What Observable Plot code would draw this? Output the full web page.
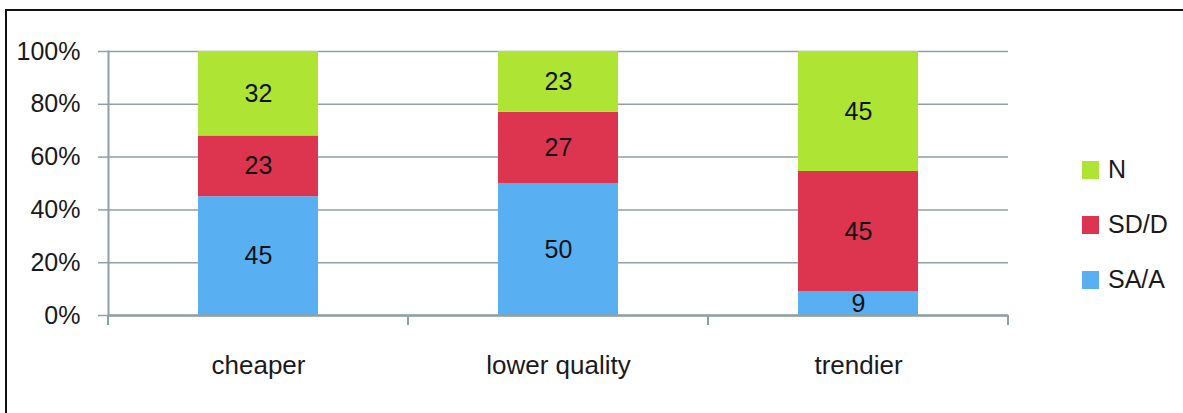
<!DOCTYPE html>
<html>
<head>
<meta charset="utf-8">
<script src="https://cdn.jsdelivr.net/npm/d3@7"></script>
<script src="https://cdn.jsdelivr.net/npm/@observablehq/plot@0.6"></script>
<style>
  html, body { margin: 0; padding: 0; background: #fff; }
  #wrap { position: relative; width: 1183px; height: 413px; overflow: hidden; font-family: "Liberation Sans", Arial, sans-serif; }
  #frame { position: absolute; left: 5px; top: 9px; width: 1220px; height: 460px; border: 2px solid #111; pointer-events: none; }
  #chart { position: absolute; left: 0; top: 0; }
  #legend { position: absolute; left: 1082px; top: 142px; }
  .item { display: flex; align-items: center; height: 55px; }
  .sw { width: 17px; height: 18px; margin-right: 9px; }
  .lab { font-size: 25px; color: #1a1a1a; line-height: 1; }
</style>
</head>
<body>
<div id="wrap">
  <div id="chart"></div>
  <div id="legend"></div>
  <div id="frame"></div>
</div>
<script>
// Survey answers per statement
const categories = ["cheaper", "lower quality", "trendier"];
const series = ["SA/A", "SD/D", "N"];
const saA = [45, 50, 9];
const sdD = [23, 27, 45];
const neutral = [32, 23, 45];
const yTicks = [0, 0.2, 0.4, 0.6, 0.8, 1];

const seriesColors = ["#58b0f2", "#dd3550", "#aee535"];
const gridColor = "#8ea0a3";

// Long-format rows, stacked bottom to top in series order
const valuesBySeries = [saA, sdD, neutral];
const rows = [];
series.forEach((s, si) => {
  categories.forEach((c, ci) => rows.push({category: c, series: s, value: valuesBySeries[si][ci]}));
});

// Tick marks between categories, below the baseline
function bandBoundaries(index, scales) {
  const x = scales.x, y = scales.y;
  const step = typeof x.step === "function" ? x.step() : scales.scales.x.step;
  const bw = typeof x.bandwidth === "function" ? x.bandwidth() : scales.scales.x.bandwidth;
  const xs = categories.map(c => x(c) + bw / 2 - step / 2);
  xs.push(x(categories[categories.length - 1]) + bw / 2 + step / 2);
  const y0 = y(0);
  const g = d3.create("svg:g");
  g.selectAll("line").data(xs).join("line")
    .attr("x1", d => d).attr("x2", d => d)
    .attr("y1", y0).attr("y2", y0 + 10)
    .attr("stroke", gridColor).attr("stroke-width", 2);
  return g.node();
}

const plot = Plot.plot({
  width: 1183,
  height: 413,
  marginLeft: 108,
  marginRight: 175,
  marginTop: 51,
  marginBottom: 98,
  style: {background: "transparent", fontFamily: "Liberation Sans, Arial, sans-serif", color: "#1a1a1a"},
  x: {domain: categories, paddingInner: 0.6, paddingOuter: 0.3, label: null},
  y: {domain: [0, 1], label: null},
  color: {domain: series, range: seriesColors},
  marks: [
    Plot.gridY(yTicks, {stroke: gridColor, strokeOpacity: 1, strokeWidth: 1.5}),
    Plot.barY(rows, {x: "category", y: "value", fill: "series", offset: "normalize"}),
    Plot.text(rows, Plot.stackY({x: "category", y: "value", z: "series", offset: "normalize", text: "value", fill: "#111", fontSize: 25})),
    Plot.ruleY([0], {stroke: gridColor, strokeWidth: 2.5}),
    Plot.frame({anchor: "left", stroke: gridColor, strokeWidth: 2}),
    bandBoundaries,
    Plot.axisY({ticks: yTicks, tickFormat: d3.format(".0%"), tickSize: 10, tickPadding: 18, stroke: gridColor, strokeWidth: 1.5, strokeOpacity: 1, fontSize: 25, fill: "#1a1a1a"}),
    Plot.axisX({tickSize: 0, tickPadding: 40, fontSize: 26, fill: "#1a1a1a"})
  ]
});
document.getElementById("chart").appendChild(plot);

// Legend: top entry first, as the stack reads
const legend = document.getElementById("legend");
series.slice().reverse().forEach(s => {
  const item = document.createElement("div");
  item.className = "item";
  const sw = document.createElement("div");
  sw.className = "sw";
  sw.style.background = seriesColors[series.indexOf(s)];
  const lab = document.createElement("div");
  lab.className = "lab";
  lab.textContent = s;
  item.append(sw, lab);
  legend.appendChild(item);
});
</script>
</body>
</html>
